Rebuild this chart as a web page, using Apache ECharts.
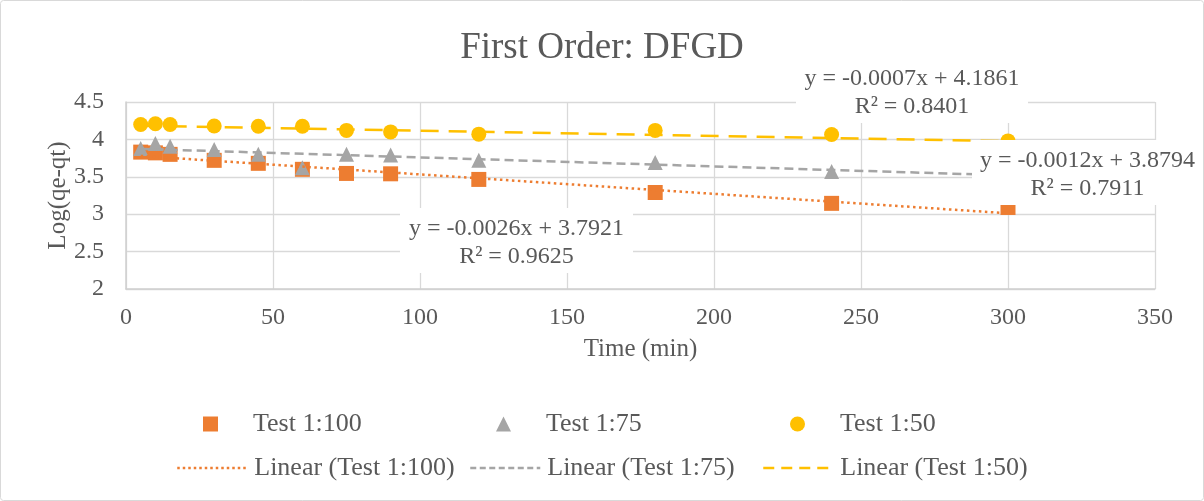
<!DOCTYPE html>
<html>
<head>
<meta charset="utf-8">
<script src="https://cdn.jsdelivr.net/npm/echarts@6/dist/echarts.min.js"></script>
<style>
html,body{margin:0;padding:0;background:#fff;}
#chart{width:1204px;height:501px;}
</style>
</head>
<body>
<div id="chart"></div>
<script>
// ---- data ----
const timeMin = [5, 10, 15, 30, 45, 60, 75, 90, 120, 180, 240, 300];
const test100 = [3.83, 3.82, 3.80, 3.72, 3.68, 3.60, 3.545, 3.54, 3.465, 3.29, 3.145, 3.09];
const test75  = [3.88, 3.945, 3.91, 3.865, 3.80, 3.62, 3.80, 3.79, 3.72, 3.69, 3.57, 3.55];
const test50  = [4.20, 4.21, 4.20, 4.18, 4.175, 4.175, 4.12, 4.10, 4.07, 4.12, 4.065, 3.98];
const seriesNames = ['Test 1:100', 'Test 1:75', 'Test 1:50'];
const trendNames = ['Linear (Test 1:100)', 'Linear (Test 1:75)', 'Linear (Test 1:50)'];
const trendSlope = [-0.0026, -0.0012, -0.0007];
const trendIntercept = [3.7921, 3.8794, 4.1861];
const trendRange = [5, 300];
const eqTexts = ['y = -0.0026x + 3.7921', 'y = -0.0012x + 3.8794', 'y = -0.0007x + 4.1861'];
const r2Texts = ['R² = 0.9625', 'R² = 0.7911', 'R² = 0.8401'];
const xTicks = {min: 0, max: 350, interval: 50};
const yTicks = {min: 2, max: 4.5, interval: 0.5};

const colors = ['#ED7D31', '#A5A5A5', '#FFC000'];
const FONT = '"Liberation Serif", "Times New Roman", serif';
const TXT = '#595959';

const pairs = arr => timeMin.map((t, i) => [t, arr[i]]);
const trend = i => trendRange.map(x => [x, trendIntercept[i] + trendSlope[i] * x]);

const lineTypes = [[2.5, 3.5], [9, 5], [18, 10]];
const legendLineTypes = [[2.5, 3], [6, 3.5], [11, 7]];

const chart = echarts.init(document.getElementById('chart'), null, {renderer: 'canvas'});

function labelBox(x, y, w, h, idx) {
  return [
    {type: 'rect', z: 100, shape: {x: x, y: y, width: w, height: h}, style: {fill: '#ffffff'}},
    {type: 'text', z: 101, x: x + w / 2, y: y + h / 2 + 2,
     style: {text: eqTexts[idx] + '\n' + r2Texts[idx], align: 'center', textAlign: 'center',
             verticalAlign: 'middle', textVerticalAlign: 'middle',
             fontSize: 24, fontFamily: FONT, fill: TXT, lineHeight: 28}}
  ];
}

const scatterSymbols = ['rect', 'triangle', 'circle'];
const scatterData = [test100, test75, test50];

const series = [];
scatterData.forEach((arr, i) => {
  series.push({
    name: seriesNames[i], type: 'scatter', data: pairs(arr),
    symbol: scatterSymbols[i], symbolSize: 15, z: 2 + i * 0.1,
    itemStyle: {color: colors[i], opacity: 1}
  });
});
[0, 1, 2].forEach(i => {
  series.push({
    name: trendNames[i], type: 'line', data: trend(i), symbol: 'none', z: 5,
    lineStyle: {color: colors[i], width: 2.5, type: lineTypes[i], cap: 'butt'},
    itemStyle: {color: colors[i]}
  });
});

const legendBase = {orient: 'horizontal', padding: 0, itemGap: 0, selectedMode: false,
  textStyle: {fontFamily: FONT, fontSize: 26, color: TXT}};
const row1Left = [203, 496, 790];
const row2Left = [176, 469, 762];
const legends = [];
[0, 1, 2].forEach(i => {
  legends.push(Object.assign({}, legendBase, {
    data: [seriesNames[i]], left: row1Left[i], top: 411,
    itemWidth: 15, itemHeight: 15,
    itemStyle: {opacity: 1},
    textStyle: {fontFamily: FONT, fontSize: 26, color: TXT, padding: [0, 0, 0, 30]}
  }));
});
[0, 1, 2].forEach(i => {
  legends.push(Object.assign({}, legendBase, {
    data: [trendNames[i]], left: row2Left[i], top: 455,
    itemWidth: 70, itemHeight: 14,
    itemStyle: {opacity: 0},
    lineStyle: {color: colors[i], width: 2.5, type: legendLineTypes[i], opacity: 1},
    textStyle: {fontFamily: FONT, fontSize: 26, color: TXT, padding: [0, 0, 0, 2]}
  }));
});

const option = {
  backgroundColor: '#ffffff',
  animation: false,
  title: {
    text: 'First Order: DFGD', left: 'center', top: 30, padding: 0,
    textStyle: {fontFamily: FONT, fontSize: 37, fontWeight: 'normal', color: TXT}
  },
  grid: {left: 126, right: 49, top: 102, bottom: 212, containLabel: false},
  legend: legends,
  xAxis: {
    type: 'value', min: xTicks.min, max: xTicks.max, interval: xTicks.interval,
    name: 'Time (min)', nameLocation: 'middle', nameGap: 48, nameMoveOverlap: false,
    nameTextStyle: {fontFamily: FONT, fontSize: 25, color: TXT},
    axisLine: {show: true, lineStyle: {color: '#cfcfcf', width: 1.5}},
    axisTick: {show: false},
    axisLabel: {fontFamily: FONT, fontSize: 24, color: TXT, margin: 17},
    splitLine: {show: true, lineStyle: {color: '#d9d9d9', width: 1.3}}
  },
  yAxis: {
    type: 'value', min: yTicks.min, max: yTicks.max, interval: yTicks.interval,
    name: 'Log(qe-qt)', nameLocation: 'middle', nameGap: 55, nameMoveOverlap: false,
    nameTextStyle: {fontFamily: FONT, fontSize: 25, color: TXT},
    axisLine: {show: true, lineStyle: {color: '#cfcfcf', width: 1.5}},
    axisTick: {show: false},
    axisLabel: {fontFamily: FONT, fontSize: 24, color: TXT, margin: 22},
    splitLine: {show: true, lineStyle: {color: '#d9d9d9', width: 1.3}}
  },
  graphic: [
    {type: 'rect', z: 0, shape: {x: 0.5, y: 0.5, width: 1203, height: 500, r: 3},
     style: {fill: 'none', stroke: '#d9d9d9', lineWidth: 1}},
    ...labelBox(400, 208, 233, 65, 0),
    ...labelBox(972, 140, 231, 65, 1),
    ...labelBox(796, 58, 232, 65, 2)
  ],
  series: series
};
chart.setOption(option);
</script>
</body>
</html>
